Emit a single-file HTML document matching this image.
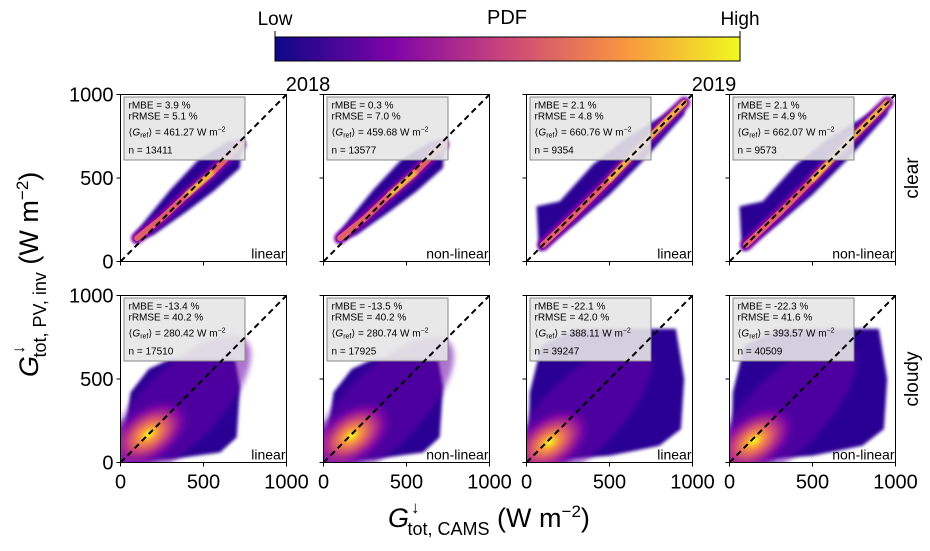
<!DOCTYPE html>
<html><head><meta charset="utf-8">
<style>
html,body{margin:0;padding:0;background:#fff;}
body{width:930px;height:546px;overflow:hidden;font-family:"Liberation Sans","DejaVu Sans",sans-serif;}
svg text{font-family:"Liberation Sans","DejaVu Sans",sans-serif;}
</style></head>
<body>
<svg id="chart" width="930" height="546" viewBox="0 0 930 546" xmlns="http://www.w3.org/2000/svg">
<defs>
<linearGradient id="plasma" x1="0" x2="1" y1="0" y2="0">
<stop offset="0" stop-color="#0d0887"/><stop offset="0.25" stop-color="#7e03a8"/>
<stop offset="0.5" stop-color="#cc4778"/><stop offset="0.75" stop-color="#f89540"/>
<stop offset="1" stop-color="#f0f921"/></linearGradient>
<radialGradient id="hot">
<stop offset="0" stop-color="#f0f921"/><stop offset="0.2" stop-color="#f89540"/>
<stop offset="0.45" stop-color="#cc4778"/><stop offset="0.75" stop-color="#7e03a8" stop-opacity="0.8"/>
<stop offset="1" stop-color="#3a0a9a" stop-opacity="0"/></radialGradient>
<filter id="blur" x="-20%" y="-20%" width="140%" height="140%"><feGaussianBlur stdDeviation="1.5"/></filter>
<filter id="blur2" x="-20%" y="-20%" width="140%" height="140%"><feGaussianBlur stdDeviation="3"/></filter>
</defs>
<g id="panels"></g>
<g id="colorbar">
<rect x="275" y="37" width="465" height="24" fill="url(#plasma)" stroke="#000" stroke-width="1"/>
<line x1="275" y1="37" x2="275" y2="31" stroke="#000"/><line x1="740" y1="37" x2="740" y2="31" stroke="#000"/>
<text x="275" y="25" font-size="19" text-anchor="middle">Low</text>
<text x="740" y="25" font-size="19" text-anchor="middle">High</text>
<text x="507" y="24" font-size="20" text-anchor="middle">PDF</text>
</g>
<text x="308" y="91" font-size="20" text-anchor="middle">2018</text>
<text x="714" y="91" font-size="20" text-anchor="middle">2019</text>
<text transform="translate(918,178) rotate(-90)" font-size="19" text-anchor="middle">clear</text>
<text transform="translate(918,379) rotate(-90)" font-size="19" text-anchor="middle">cloudy</text>
<text transform="translate(38,377) rotate(-90)" font-size="27"><tspan font-style="italic">G</tspan><tspan font-size="17" dx="2" dy="-14">↓</tspan><tspan font-size="18" dx="-12" dy="22">tot, PV, inv</tspan><tspan dy="-8"> (W m</tspan><tspan font-size="17" dy="-10">−2</tspan><tspan dy="10">)</tspan></text>
<text x="388" y="527" font-size="27"><tspan font-style="italic">G</tspan><tspan font-size="17" dx="2" dy="-14">↓</tspan><tspan font-size="18" dx="-12" dy="22">tot, CAMS</tspan><tspan dy="-8"> (W m</tspan><tspan font-size="17" dy="-10">−2</tspan><tspan dy="10">)</tspan></text>
</svg>
<script>
const panelNames = ["2018-linear","2018-nonlinear","2019-linear","2019-nonlinear"];
const methods = ["linear","non-linear","linear","non-linear"];
const rMBE = [[3.9,0.3,2.1,2.1],[-13.4,-13.5,-22.1,-22.3]];
const rRMSE = [[5.1,7.0,4.8,4.9],[40.2,40.2,42.0,41.6]];
const gRef = [[461.27,459.68,660.76,662.07],[280.42,280.74,388.11,393.57]];
const nPts = [[13411,13577,9354,9573],[17510,17925,39247,40509]];
const tickVals = [0,500,1000];
const clear2018Band = [[100,140],[250,260],[400,400],[550,530],[720,700]];
const clear2019Band = [[100,100],[300,290],[500,490],[700,700],[950,950]];
const clear2018Env = [[80,120],[200,160],[400,300],[560,420],[720,560],[730,720],[650,720],[470,610],[300,430],[160,260],[90,170]];
const clear2019Env = [[80,60],[300,230],[500,400],[700,600],[950,880],[960,970],[800,860],[600,740],[400,580],[200,360],[60,330],[70,150]];
const cloud2018Env = [[10,40],[30,200],[60,420],[170,560],[300,620],[690,620],[720,450],[700,150],[600,60],[300,20],[80,20]];
const cloud2019Env = [[10,20],[20,420],[90,700],[300,800],[900,800],[950,500],[930,200],[800,100],[500,40],[200,20]];
const hotSpots = [[170,170],[170,160],[140,120],[150,130]];

const SVGNS="http://www.w3.org/2000/svg";
const px0=[120.5,323.5,526.5,729.5], py0=[94.5,295.5], W=166, H=167;
function mk(tag,attrs,parent){const e=document.createElementNS(SVGNS,tag);for(const k in attrs)e.setAttribute(k,attrs[k]);parent.appendChild(e);return e;}
const root=document.getElementById('panels');
function sx(c,v){return px0[c]+v/1000*W;}
function sy(r,v){return py0[r]+H-v/1000*H;}
function pts(r,c,arr){return arr.map(p=>sx(c,p[0]).toFixed(1)+","+sy(r,p[1]).toFixed(1)).join(" ");}
for(let r=0;r<2;r++)for(let c=0;c<4;c++){
 const g=mk('g',{},root);
 
 
 const cid='clip'+r+c;
 const cp=mk('clipPath',{id:cid},g); mk('rect',{x:px0[c],y:py0[r],width:W,height:H},cp);
 const d=mk('g',{'clip-path':'url(#'+cid+')'},g);
 const is19=c>=2;
 if(r===0){
  const env=is19?clear2019Env:clear2018Env, band=is19?clear2019Band:clear2018Band;
  const e=mk('polygon',{points:pts(r,c,env),fill:'#2c0594',filter:'url(#blur)'},d);
  
  
  mk('polyline',{points:pts(r,c,band),fill:'none',stroke:'#7e03a8',"stroke-width":12,"stroke-linecap":"round",filter:'url(#blur)'},d);
  mk('polyline',{points:pts(r,c,band),fill:'none',stroke:'#e0606a',"stroke-width":6,"stroke-linecap":"round"},d);
  const hb=band.slice(2,is19?5:4);
  const h=mk('polyline',{points:pts(r,c,hb),fill:'none',stroke:'#f6d23a',"stroke-width":4,"stroke-linecap":"round",filter:'url(#blur)'},d);
  
  
 } else {
  const env=is19?cloud2019Env:cloud2018Env;
  const e=mk('polygon',{points:pts(r,c,env),fill:'#2c0594',filter:'url(#blur)'},d);
  
  
  const hs=hotSpots[c];
  const cx=sx(c,hs[0]), cy=sy(r,hs[1]);
  mk('ellipse',{cx:sx(c,hs[0]+180),cy:sy(r,hs[1]+160),rx:95,ry:38,fill:'#6a00a8',opacity:0.55,transform:`rotate(-45 ${sx(c,hs[0]+180)} ${sy(r,hs[1]+160)})`,filter:'url(#blur2)'},d);
  const h=mk('ellipse',{cx:cx,cy:cy,rx:50,ry:30,fill:'url(#hot)',transform:`rotate(-35 ${cx} ${cy})`},d);
  
  
 }
 const bx=mk('rect',{x:px0[c]+3.5,y:py0[r]+2.5,width:121,height:63,fill:'#e6e6e6',"fill-opacity":0.9,stroke:'#888'},d);
 
 
 const tx=px0[c]+8, fs=10;
 mk('text',{x:tx,y:py0[r]+14,"font-size":fs},d).textContent='rMBE = '+rMBE[r][c].toFixed(1)+' %';
 mk('text',{x:tx,y:py0[r]+25,"font-size":fs},d).textContent='rRMSE = '+rRMSE[r][c].toFixed(1)+' %';
 const t3=mk('text',{x:tx,y:py0[r]+41,"font-size":fs},d);
 t3.innerHTML='⟨<tspan font-style="italic">G</tspan><tspan font-size="7" dy="2">ref</tspan><tspan dy="-2">⟩ = '+gRef[r][c].toFixed(2)+' W m</tspan><tspan font-size="7" dy="-4">−2</tspan>';
 mk('text',{x:tx,y:py0[r]+59,"font-size":fs},d).textContent='n = '+nPts[r][c];
 const dl=mk('line',{x1:sx(c,0),y1:sy(r,0),x2:sx(c,1000),y2:sy(r,1000),stroke:'#000',"stroke-width":2,"stroke-dasharray":"6,4"},d);
 
 
 const ml=mk('text',{x:px0[c]+W-1,y:py0[r]+H-3,"font-size":14,"text-anchor":"end"},d);ml.textContent=methods[c];
 
 
 mk('rect',{x:px0[c],y:py0[r],width:W,height:H,fill:'none',stroke:'#000',"stroke-width":1},g);
 tickVals.forEach(v=>{
  mk('line',{x1:px0[c],x2:px0[c]-4,y1:sy(r,v),y2:sy(r,v),stroke:'#000'},g);
  mk('line',{x1:sx(c,v),x2:sx(c,v),y1:py0[r]+H,y2:py0[r]+H+4,stroke:'#000'},g);
  if(c===0){const t=mk('text',{x:px0[c]-7,y:sy(r,v)+7,"font-size":20,"text-anchor":"end"},g);t.textContent=v;
   
   }
  if(r===1){const t=mk('text',{x:sx(c,v),y:py0[r]+H+26,"font-size":20,"text-anchor":"middle"},g);t.textContent=v;
   
   }
 });
}
</script>
</body></html>
